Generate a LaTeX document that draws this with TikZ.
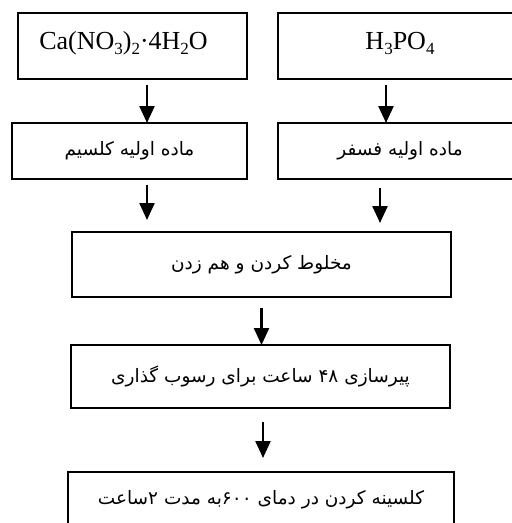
\documentclass[tikz,border=0pt]{standalone}
\usepackage{fontspec}
\setmainfont{Liberation Serif}
\newfontfamily\farsi[Script=Arabic]{DejaVu Sans}
\TeXXeTstate=1
\usetikzlibrary{arrows.meta}

\newcommand{\fatext}[1]{{\farsi\fontsize{18.5}{22}\selectfont\beginR #1\endR}}
\newcommand{\chemsub}[1]{\raisebox{-5pt}{\fontsize{17}{17}\selectfont #1}}
\newcommand{\formula}[1]{\raisebox{-3pt}[0pt][0pt]{#1}}

\begin{document}
\begin{tikzpicture}
	[x=1pt,y=-1pt,
		box/.style={draw,rectangle,line width=1.6pt,anchor=north west,inner
		sep=0pt,outer sep=0pt,font=\fontsize{26}{30}\selectfont},
		flow/.style={line width=2.4pt,-{Triangle[width=15pt,length=17pt]}}]
	\useasboundingbox (0,0) rectangle (512,523);
	\clip (0,0) rectangle (512,523);

	% raw materials
	\node (cano) at (18,13) [box,minimum width=229pt,minimum height=66pt]
		{\formula{Ca(NO\chemsub{3})\chemsub{2}·4H\chemsub{2}O\hspace*{18pt}}};
	\node (hpo) at (278,13) [box,minimum width=244pt,minimum height=66pt]
		{\formula{H\chemsub{3}PO\chemsub{4}}};
	\node (casrc) at (12,123) [box,minimum width=235pt,minimum height=56pt]
		{\fatext{ماده اولیه کلسیم}};
	\node (psrc) at (278,123) [box,minimum width=244pt,minimum height=56pt]
		{\fatext{ماده اولیه فسفر}};

	% process steps
	\node (mix) at (72,232) [box,minimum width=379pt,minimum height=65pt]
		{\fatext{مخلوط کردن و هم زدن}};
	\node (aging) at (71,345) [box,minimum width=379pt,minimum height=63pt]
		{\fatext{پیرسازی ۴۸ ساعت برای رسوب گذاری}};
	\node (calc) at (68,472) [box,minimum width=386pt,minimum height=56pt]
		{\fatext{کلسینه کردن در دمای ۶۰۰به مدت ۲ساعت}};

	\draw[flow] ([xshift=14.5pt,yshift=-6pt]cano.south) -- ([xshift=17.5pt]casrc.north);
	\draw[flow] ([xshift=-14pt,yshift=-6pt]hpo.south) -- ([xshift=-14pt]psrc.north);
	\draw[flow,shorten >=12pt] ([xshift=17.5pt,yshift=-6pt]casrc.south)
		-- ([xshift=17.5pt]casrc.south |- mix.north);
	\draw[flow,shorten >=9pt] ([xshift=-20pt,yshift=-9pt]psrc.south)
		-- ([xshift=-20pt]psrc.south |- mix.north);
	\draw[flow] ([yshift=-11pt]mix.south) -- (mix.south |- aging.north);
	\draw[flow,shorten >=14pt] ([xshift=2.5pt,yshift=-14pt]aging.south)
		-- ([xshift=2.5pt]aging.south |- calc.north);

\end{tikzpicture}
\end{document}
